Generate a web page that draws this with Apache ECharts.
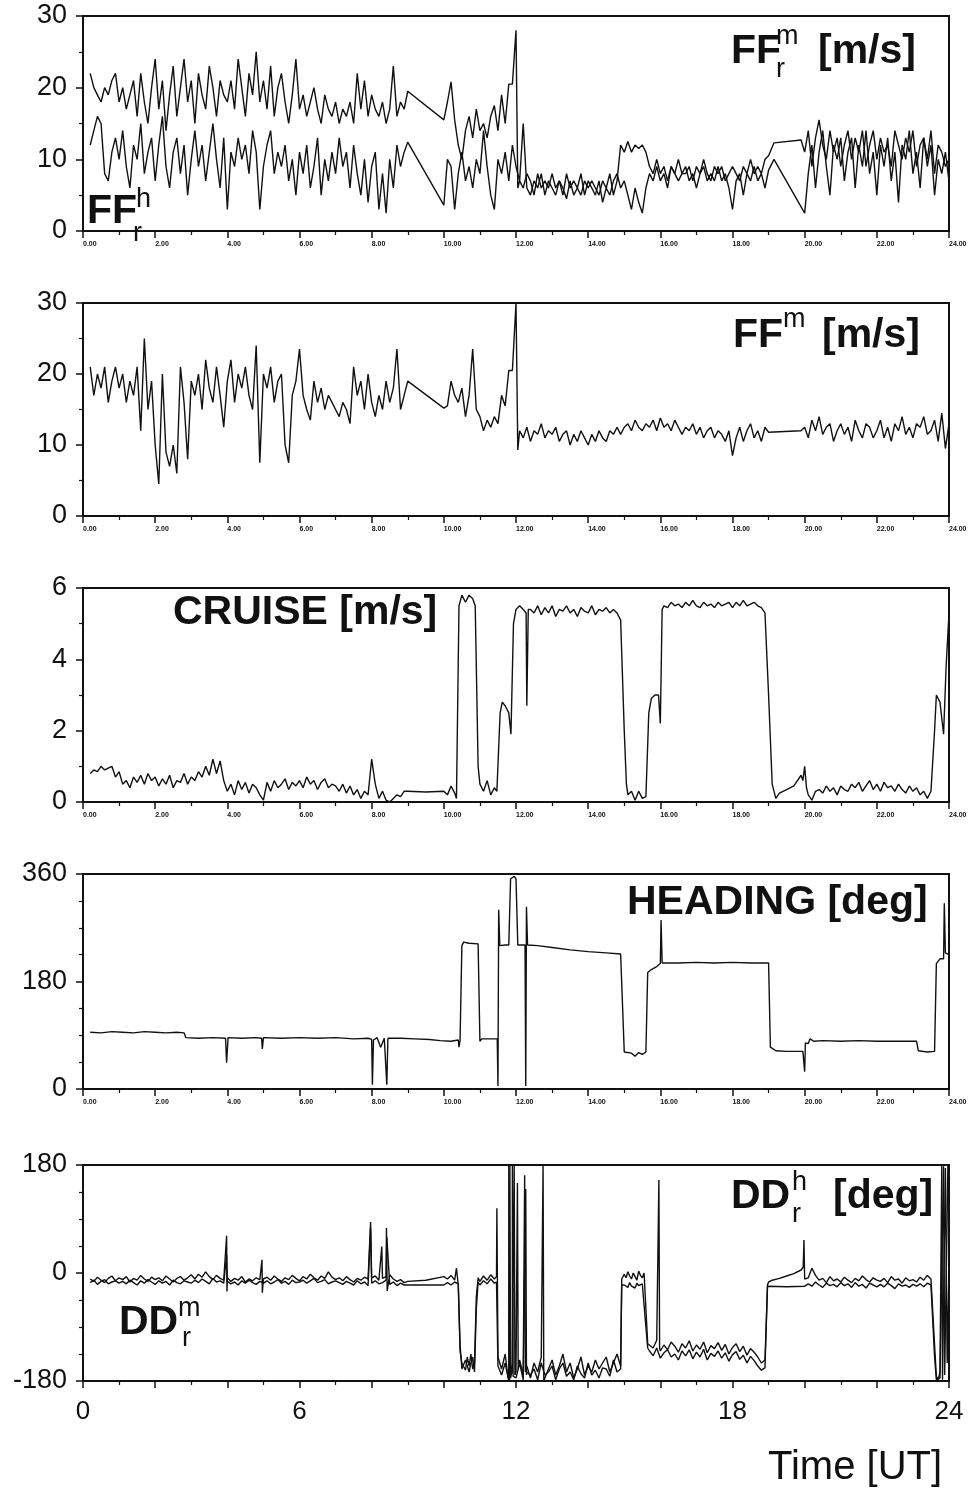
<!DOCTYPE html>
<html>
<head>
<meta charset="utf-8">
<title>Ship wind record, 24 h</title>
<script src="https://cdn.jsdelivr.net/npm/echarts@6.0.0/dist/echarts.min.js"></script>
<style>
  html, body { margin: 0; padding: 0; background: #fff; }
  #chart { width: 971px; height: 1490px; }
</style>
</head>
<body>
<div id="chart"></div>
<script>
// ---- digitised records (hour UT, value); runs are sampled every dt hours ----

// panel 1: FF_r^m (upper trace before 12 UT) and FF_r^h  [m/s]
const ffrmA = [22,20,19,18,20,19,21,22,18,
  20,17,19,21,16,22,18,15,20,24,
  17,21,14,19,23,16,20,24,18,21,
  15,22,19,17,23,20,16,21,19,18,
  21,17,24,20,16,22,19,25,18,21,
  17,23,16,20,22,18,15,19,24,17,
  19,16,18,20,17,15,19,17,16,18,
  15,17,16,18,15,22,17,21,16,19,
  17,16,18,15,17,23,16,18,17,19.5];            // 0.2 .. 9.0
const ffrmB = [18,20.8,15.5,12,10,14,16,13,17,14,15,13,16,17.5,14,19,15,20.5,20.5,28]; // 10.1 .. 12.0
const ffrmC = [7,6,8,7,5,8,6,7,6,8, 6,7,5,8,6,7,6,5,7,6, 7,6,5,7,6,8,5,7];   // 12.1 .. 14.8
const ffrmD = [12,11,12.5,11,12,11.5,12,11];                                // 14.9 .. 15.6
const ffrmE = [9,8,10,8,9,7,9,8,10,8, 8,9,7,9,8,10,8,7,9,8, 9,7,8,9,8,7,9,8,10,8, 9,8,10,10.5]; // 15.7 .. 19.0
const ffrmF = [12.7,11,14,9,13,15.5,12,10,14,11, 13,9,12,14,10,13,11,14,9,12,
  14,10,13,11,12,9,14,12,10,13, 11,14,9,12,13,10,14,8,12,11, 9,10];         // 19.9 .. 24.0
const ffrmPts = [[10.0,15.5],[12.05,6],[19.15,12.3]];

const ffrhA = [12,14,16,15,8,7,11,13,10,
  14,9,6,12,10,15,8,11,13,7,
  12,16,9,6,11,13,8,12,5,10,
  14,9,12,7,11,15,10,6,13,3,
  11,9,13,10,12,8,14,11,3,9,
  12,14,8,11,9,12,7,10,5,11,
  8,12,6,9,13,5,10,7,11,8,
  13,9,11,6,12,8,5,10,4,9,
  11,3,8,2.5,10,6,12,9,11,12.4];               // 0.2 .. 9.0
const ffrhB = [3.6,10,9,3,8,11,7,9,6,10,8,14,9,5,3,10,8,11,7,12,9];          // 10.0 .. 12.0
const ffrhC = [7,15,6,5,7,6,8,5,7,6, 5,7,6,4.5,7,5,6,8,5,7, 6,5,7,4,6,5,7,8,6]; // 12.1 .. 14.9
const ffrhD = [7,5,3,6,4,2.5,6];                                            // 15.0 .. 15.6
const ffrhE = [8,7,9,7,8,6,9,8,7,8, 9,7,8,6,8,9,7,8,7,9, 7,8,6,3,7,8,5,8,7,9, 7,8,6,8.5]; // 15.7 .. 19.0
const ffrhF = [8,12,6,11,14,9,5,12,10,13, 7,11,13,6,12,9,14,8,11,5,
  12,9,13,7,11,4,12,10,14,8, 11,6,13,9,12,5,10,8,11,7];                     // 20.1 .. 24.0
const ffrhPts = [[19.15,10],[20.0,2.5]];

// panel 2: FF^m [m/s]
const ffmA = [21,17,20,18,21,16,19,21,18,
  20,16,19,17,21,12,25,15,19,10,
  4.5,20,9,7,10,6,21,16,8,19,
  17,20,15,22,18,16,21,17,12.5,19,
  22,16,20,18,21,17,15,24,7.5,20,
  18,21,16,19,20,10,7.5,17,19,23.5,
  17,15,13.5,19,16,18,15,17,16,15,
  14,16,15,13,21,17,19,15,20,16,
  14,17,15,19,16,18,23.5,15,17,19];             // 0.2 .. 9.0
const ffmB = [15.5,19,17,16,18,14,17,23.5,15,14,12,13.5,12.5,14,13,17,15.5,20.5,20.5,30]; // 10.1 .. 12.0
const ffmC = [12,11,12.5,10.5,12,11.5,13,11,12,11.5,
  12.5,10.5,11.5,12,10,11.5,10.5,12,11,10,
  11.5,10.5,12,11,10.5,12,11.5,12.5,11.5,12.5,
  13,12,13.5,12.5,12,13,12.5,13.5,12,13.8,
  12.5,13,12,13.5,12.5,11.5,12.5,12,13,11.5,
  12.5,11,12,12.5,11,12,11.5,10.5,12,8.5,
  11,12.5,10.5,12,13,11,12,10.5,12.5,11.8];    // 12.1 .. 19.0
const ffmE = [12.5,11,13.5,12,14,11.5,12.5,13,10.5,12,
  13,11.5,12.5,10.5,13.5,12,11,13,12.5,11,
  12,13.5,11,12.5,10.5,13,12,14,11.5,12.5,
  11,13,12.5,14,11.5,12,13.5,10.5,14.5,9.5, 13]; // 20.0 .. 24.0
const ffmPts = [[10.0,15.2],[12.05,9.3],[19.9,12]];

// panel 3: CRUISE [m/s]
const cruA = [0.8,0.9,0.85,1.0,0.9,0.95,1.0,0.7,0.85,
  0.5,0.6,0.4,0.7,0.55,0.75,0.5,0.8,0.6,0.7,
  0.45,0.65,0.5,0.75,0.4,0.6,0.55,0.8,0.5,0.7,
  0.6,0.85,0.7,1.0,0.75,1.2,0.8,1.15,0.6,0.3,
  0.5,0.2,0.6,0.35,0.55,0.25,0.5,0.4,0.2,0.05,
  0.55,0.3,0.6,0.4,0.5,0.65,0.35,0.55,0.45,0.6,
  0.4,0.7,0.5,0.6,0.35,0.55,0.65,0.4,0.5,0.45,
  0.3,0.5,0.25,0.45,0.2,0.35,0.1,0.3,0.2,1.2,
  0.5,0.1,0.3,0.05,0.0,0.1,0.2,0.15,0.3,0.3];   // 0.2 .. 9.0
const cruB = [5.4,5.3,5.5,5.25,5.45,5.3,5.5,5.2,5.4,5.35,
  5.5,5.3,5.4,5.2,5.45,5.35,5.3,5.5,5.25,5.4, 5.35,5.45,5.3,5.4,5.3]; // 12.4 .. 14.8
const cruC = [5.5,5.45,5.6,5.5,5.55,5.45,5.6,5.5,5.65,5.5,
  5.45,5.6,5.5,5.55,5.45,5.6,5.5,5.55,5.6,5.45,
  5.6,5.5,5.65,5.5,5.55,5.6,5.5,5.45,5.3];     // 16.1 .. 18.9
const cruD = [0.35,0.25,0.45,0.3,0.4,0.2,0.45,0.35,0.3,0.5,
  0.4,0.55,0.3,0.45,0.6,0.35,0.5,0.3,0.55,0.4,
  0.45,0.3,0.5,0.35,0.25,0.45,0.3,0.4,0.2,0.3]; // 20.4 .. 23.3
const cruPts = [[9.5,0.28],[10.0,0.3],[10.1,0.2],[10.2,0.45],[10.3,0.25],[10.35,0.1],
  [10.42,5.5],[10.5,5.8],[10.6,5.6],[10.7,5.8],[10.8,5.7],[10.87,5.5],[10.95,1.0],
  [11.0,0.5],[11.1,0.3],[11.2,0.6],[11.3,0.2],[11.4,0.4],[11.47,0.3],[11.56,2.5],
  [11.62,2.8],[11.7,2.7],[11.8,2.5],[11.86,1.9],[11.93,5.0],[12.0,5.4],[12.1,5.5],
  [12.2,5.4],[12.28,5.3],[12.3,2.7],[12.34,5.4],
  [14.9,5.1],[15.0,2.0],[15.06,0.5],[15.1,0.2],[15.2,0.3],[15.3,0.05],[15.4,0.3],
  [15.5,0.1],[15.6,0.15],[15.68,2.5],[15.75,2.9],[15.85,3.0],[15.95,3.0],[16.0,2.2],[16.05,5.4],
  [19.0,3.0],[19.1,0.5],[19.2,0.1],[19.3,0.25],[19.5,0.35],[19.7,0.45],[19.8,0.6],
  [19.9,0.75],[19.95,0.6],[20.0,1.0],[20.05,0.4],[20.1,0.2],[20.2,0.05],[20.3,0.3],
  [23.4,0.1],[23.5,0.3],[23.6,2.0],[23.65,3.0],[23.75,2.8],[23.85,1.9],[23.92,3.8],[24.0,5.3]];

// panel 4: HEADING [deg]
const hdgPts = [[0.2,95],[0.5,94],[0.8,96],[1.1,95],[1.4,94],[1.7,96],[2.0,95],[2.3,94],
  [2.6,95],[2.8,94],[2.85,86],[3.2,85],[3.6,86],[3.95,85],[3.98,44],[4.02,86],[4.4,85],
  [4.8,86],[4.95,85],[4.97,67],[5.0,86],[5.5,85],[6.0,86],[6.5,85],[7.0,86],[7.5,84],
  [7.9,85],[8.0,83],[8.02,7],[8.05,82],[8.15,86],[8.25,70],[8.35,85],[8.4,83],[8.42,7],
  [8.45,85],[8.8,85],[9.2,84],[9.6,83],[9.9,81],[10.2,80],[10.4,82],[10.42,70],[10.45,82],
  [10.5,240],[10.55,246],[10.7,244],[10.95,243],[11.0,80],[11.05,84],[11.3,84],[11.48,84],
  [11.5,5],[11.52,300],[11.55,240],[11.7,241],[11.8,241],[11.85,352],[11.95,356],[12.0,352],
  [12.05,241],[12.25,241],[12.27,5],[12.29,305],[12.32,241],[12.6,240],[13.0,237],[13.5,233],
  [14.0,230],[14.5,228],[14.9,226],[15.0,62],[15.2,60],[15.3,55],[15.4,61],[15.5,58],
  [15.6,62],[15.65,195],[15.75,200],[15.9,205],[16.0,210],[16.02,283],[16.05,211],[16.5,211],
  [17.0,212],[17.5,211],[18.0,212],[18.5,211],[19.0,211],[19.05,70],[19.2,64],[19.5,63],
  [19.95,63],[20.0,29],[20.02,77],[20.1,76],[20.15,84],[20.25,80],[20.5,81],[21.0,80],
  [21.5,81],[22.0,80],[22.5,80],[23.1,80],[23.15,64],[23.4,62],[23.6,63],[23.65,210],
  [23.75,218],[23.85,218],[23.87,311],[23.9,228],[24.0,225]];

// panel 5: DD_r^h and DD_r^m [deg]
const ddhA = [-10,-14,-7,-12,-16,-9,-5,-13,-8,
  -11,-6,-15,-9,-12,-4,-10,-14,-7,-11,
  -8,-13,-5,-10,-15,-9,-6,-12,-8,-3,
  -10,-2,-7,2,-6,-11,-4,-9,-12,-8,
  -14,-9,-12,-6,-15,-10,-13,-8,-11,-10,
  -7,-12,-5,-10,-14,-8,-11,-4,-9,-13,
  -6,-10,-2,-8,-12,-5,-9,2,-7,-11,
  -8,-13,-6,-11,-15,-9,-12,-7,-10,-8,
  -5,-12,-9,-6,-3,-10,-14,-11,-16,-14];         // 0.2 .. 9.0
const ddhB = [-140,-160,-135,-170,-150,-165,-145,-170,-155,-175,
  -150,-165,-140,-175,-160,-145,-170,-155,-135,-165,
  -150,-175,-160,-140,-170,-155,-165,-145,-160,-150,
  -140,-165,-150,-135,-155];                    // 11.5 .. 14.9
const ddhC = [-2,-8,2,-5,-10,0,-6,-12,3,-4,-8,0]; // 15.0 .. 15.55 (dt 0.05)
const ddhD = [-118,-125,-112,-130,-120,-128,-115,-122,-132,-118,
  -125,-113,-130,-120,-127,-115,-133,-121,-126,-116,
  -129,-119,-135,-124,-118,-131,-122,-137,-126,-132,
  -140,-150,-145];                              // 15.7 .. 18.9
const ddhE = [-8,8,-4,-12,-9,-16,-6,-13,-10,-15,
  -7,-12,-16,-9,-13,-5,-11,-15,-8,-12,
  -14,-9,-16,-6,-12,-10,-17,-8,-13,-11,
  -15,-7,-12,-4,-10];                           // 20.1 .. 23.5
const ddhPts = [[3.98,62],[3.99,-31],[4.96,22],[4.97,-33],[7.97,85],[8.28,44],[8.41,75],[8.43,-30],
  [9.5,-12],[10.0,-6],[10.1,-10],[10.2,-4],[10.3,-12],[10.35,8],[10.4,-20],[10.45,-130],
  [10.5,-150],[10.6,-162],[10.65,-140],[10.7,-155],[10.75,-135],[10.8,-160],[10.85,-150],
  [10.9,-40],[10.95,-8],[11.0,-14],[11.1,-5],[11.2,-12],[11.3,-3],[11.4,-10],[11.46,-6],[11.47,108],
  [11.78,-175],[11.8,180],[11.82,-178],[11.93,77],[11.95,180],[11.97,-170],[12.04,150],[12.06,-160],
  [12.24,163],[12.26,-165],[12.75,180],[12.77,-180],
  [14.93,-10],[15.6,-60],[15.65,-118],[15.96,155],[15.98,-125],
  [18.97,-20],[19.0,-15],[19.1,-12],[19.3,-9],[19.5,-5],[19.7,-1],[19.9,5],[19.96,10],[19.98,55],[20.0,-10],
  [23.6,-120],[23.65,-172],[23.7,-178],[23.75,-165],[23.8,180],[23.82,-178],[23.9,175],[23.95,-150],[24.0,10]];

const ddmA = [-16,-12,-19,-14,-11,-18,-15,-13,-17,
  -14,-18,-12,-16,-20,-13,-17,-11,-15,-19,
  -13,-17,-14,-20,-12,-16,-18,-13,-15,-17,
  -12,-16,-10,-14,-18,-9,-15,-13,-17,-14,
  -18,-15,-20,-13,-17,-12,-16,-19,-14,-17,
  -13,-18,-15,-11,-17,-14,-19,-12,-16,-15,
  -12,-17,-13,-9,-16,-14,-11,-18,-15,-13,
  -16,-19,-14,-17,-20,-13,-18,-15,-21,-17,
  -13,-18,-16,-12,-19,-15,-21,-17,-20,-20];     // 0.2 .. 9.0
const ddmB = [-155,-170,-150,-180,-160,-175,-150,-178,-165,-170,
  -160,-178,-150,-170,-165,-155,-178,-160,-150,-172,
  -165,-178,-155,-168,-175,-150,-170,-162,-175,-158,
  -160,-172,-145,-165,-160];                    // 11.5 .. 14.9
const ddmC = [-20,-18,-24,-16,-22,-19,-25,-17,-21,-23,-18,-20]; // 15.0 .. 15.55 (dt 0.05)
const ddmD = [-130,-138,-125,-142,-133,-128,-140,-135,-145,-130,
  -138,-128,-143,-132,-140,-127,-145,-134,-139,-130,
  -142,-133,-147,-136,-131,-144,-137,-150,-139,-146,
  -155,-162,-158];                              // 15.7 .. 18.9
const ddmE = [-18,-22,-15,-20,-24,-17,-21,-19,-23,-16,
  -21,-18,-24,-16,-22,-19,-25,-17,-20,-23,
  -19,-23,-17,-21,-26,-18,-22,-20,-24,-19,
  -22,-18,-23,-17,-20];                         // 20.1 .. 23.5
const ddmPts = [[3.98,30],[7.97,75],[8.42,60],
  [10.0,-20],[10.1,-16],[10.2,-20],[10.3,-15],[10.4,-18],[10.45,-120],[10.5,-160],[10.6,-145],
  [10.7,-165],[10.75,-150],[10.8,-140],[10.85,-165],[10.9,-60],[10.95,-15],[11.0,-20],[11.1,-13],
  [11.2,-18],[11.3,-10],[11.4,-17],[11.46,-15],
  [11.83,180],[11.85,-175],[11.9,180],[11.92,-172],[12.27,140],[12.29,-170],
  [14.93,-20],[15.6,-90],[15.65,-125],
  [18.97,-22],[19.5,-23],[20.0,-22],
  [23.6,-140],[23.65,-178],[23.75,-175],[23.85,178],[23.88,-170],[23.97,180]];

// ---- helpers ----
function run(t0, dt, vals) {
  return vals.map((v, i) => [Math.round((t0 + i * dt) * 100) / 100, v]);
}
function track(...parts) {
  return [].concat(...parts).sort((a, b) => a[0] - b[0]);
}

const ffrm = track(run(0.2, 0.1, ffrmA), run(10.1, 0.1, ffrmB), run(12.1, 0.1, ffrmC),
  run(14.9, 0.1, ffrmD), run(15.7, 0.1, ffrmE), run(19.9, 0.1, ffrmF), ffrmPts);
const ffrh = track(run(0.2, 0.1, ffrhA), run(10.0, 0.1, ffrhB), run(12.1, 0.1, ffrhC),
  run(15.0, 0.1, ffrhD), run(15.7, 0.1, ffrhE), run(20.1, 0.1, ffrhF), ffrhPts);
const ffm = track(run(0.2, 0.1, ffmA), run(10.1, 0.1, ffmB), run(12.1, 0.1, ffmC),
  run(20.0, 0.1, ffmE), ffmPts);
const cruise = track(run(0.2, 0.1, cruA), run(12.4, 0.1, cruB), run(16.1, 0.1, cruC),
  run(20.4, 0.1, cruD), cruPts);
const heading = track(hdgPts);
const ddh = track(run(0.2, 0.1, ddhA), run(11.5, 0.1, ddhB), run(15.0, 0.05, ddhC),
  run(15.7, 0.1, ddhD), run(20.1, 0.1, ddhE), ddhPts);
const ddm = track(run(0.2, 0.1, ddmA), run(11.5, 0.1, ddmB), run(15.0, 0.05, ddmC),
  run(15.7, 0.1, ddmD), run(20.1, 0.1, ddmE), ddmPts);

// ---- layout ----
const INK = '#111';
const FONT = '"Liberation Sans", Arial, sans-serif';
const panels = [
  { top: 16, height: 215, min: 0, max: 30, step: 10, minor: 2 },
  { top: 303, height: 213, min: 0, max: 30, step: 10, minor: 2 },
  { top: 588, height: 214, min: 0, max: 6, step: 2, minor: 2 },
  { top: 874, height: 215, min: 0, max: 360, step: 180, minor: 4 },
  { top: 1165, height: 216, min: -180, max: 180, step: 180, minor: 4 }
];

const grid = panels.map(p => ({
  left: 83, width: 866, top: p.top, height: p.height,
  show: true, borderColor: INK, borderWidth: 2, backgroundColor: 'transparent'
}));

const xAxis = panels.map((p, i) => ({
  type: 'value', gridIndex: i, min: 0, max: 24, interval: 2,
  axisLine: { show: true, onZero: false, lineStyle: { color: INK, width: 2 } },
  axisTick: { show: true, length: 7, lineStyle: { color: INK, width: 1.5 } },
  minorTick: { show: true, splitNumber: 2, length: 4, lineStyle: { color: INK, width: 1.2 } },
  splitLine: { show: false },
  axisLabel: i < 4
    ? { color: INK, fontFamily: FONT, fontSize: 7, fontWeight: 'bold', align: 'left', margin: 10,
        formatter: v => v.toFixed(2) }
    : { color: INK, fontFamily: FONT, fontSize: 26, margin: 18,
        formatter: v => (v % 6 === 0 ? String(v) : '') }
}));

const yAxis = panels.map((p, i) => ({
  type: 'value', gridIndex: i, min: p.min, max: p.max, interval: p.step,
  axisLine: { show: true, onZero: false, lineStyle: { color: INK, width: 2 } },
  axisTick: { show: true, length: 7, lineStyle: { color: INK, width: 1.5 } },
  minorTick: { show: true, splitNumber: p.minor, length: 4, lineStyle: { color: INK, width: 1.2 } },
  splitLine: { show: false },
  axisLabel: { color: INK, fontFamily: FONT, fontSize: 27, margin: 16,
    formatter: v => (v < 0 ? '-' + Math.abs(v) : String(v)) }
}));

function trace(data, i) {
  return {
    type: 'line', data: data, xAxisIndex: i, yAxisIndex: i,
    showSymbol: false, symbol: 'none', clip: true, silent: true,
    lineStyle: { color: INK, width: 1.4 }
  };
}

function label(text, x, y, size, weight) {
  return {
    type: 'text', x: x, y: y, z: 10,
    style: { text: text, fill: INK, fontFamily: FONT, fontSize: size,
      fontWeight: weight || 'bold', verticalAlign: 'middle', align: 'left' }
  };
}

const graphic = [
  // FF_r^m [m/s]
  label('FF', 731, 52, 41), label('m', 776, 37, 27, 'normal'), label('r', 776, 70, 27, 'normal'),
  label('[m/s]', 818, 52, 41),
  // FF_r^h
  label('FF', 87, 212, 41), label('h', 136, 200, 27, 'normal'), label('r', 133, 234, 27, 'normal'),
  // FF^m [m/s]
  label('FF', 733, 336, 41), label('m', 783, 320, 27, 'normal'), label('[m/s]', 822, 336, 41),
  // CRUISE [m/s]
  label('CRUISE [m/s]', 173, 613, 41),
  // HEADING [deg]
  label('HEADING [deg]', 627, 903, 41),
  // DD_r^h [deg]
  label('DD', 731, 1197, 41), label('h', 792, 1183, 27, 'normal'), label('r', 792, 1215, 27, 'normal'),
  label('[deg]', 833, 1197, 41),
  // DD_r^m
  label('DD', 119, 1323, 41), label('m', 178, 1309, 27, 'normal'), label('r', 182, 1339, 27, 'normal'),
  // axis title
  label('Time [UT]', 768, 1468, 40, 'normal')
];

const chart = echarts.init(document.getElementById('chart'), null, { renderer: 'canvas' });
chart.setOption({
  animation: false,
  backgroundColor: '#fff',
  grid: grid,
  xAxis: xAxis,
  yAxis: yAxis,
  graphic: graphic,
  series: [
    trace(ffrm, 0), trace(ffrh, 0),
    trace(ffm, 1),
    trace(cruise, 2),
    trace(heading, 3),
    trace(ddh, 4), trace(ddm, 4)
  ]
});
</script>
</body>
</html>
